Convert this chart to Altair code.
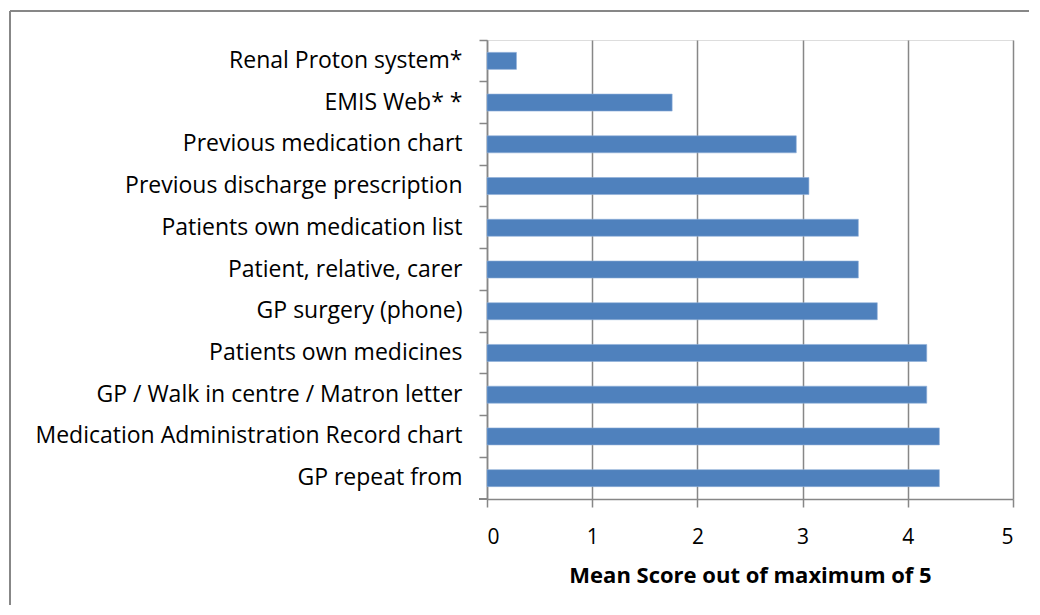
import altair as alt
import pandas as pd

sources = [
    "Renal Proton system*",
    "EMIS Web* *",
    "Previous medication chart",
    "Previous discharge prescription",
    "Patients own medication list",
    "Patient, relative, carer",
    "GP surgery (phone)",
    "Patients own medicines",
    "GP / Walk in centre / Matron letter\u00a0",
    "Medication Administration Record chart",
    "GP repeat from\u00a0",
]
scores = [0.28, 1.76, 2.94, 3.06, 3.53, 3.53, 3.71, 4.18, 4.18, 4.30, 4.30]
x_ticks = [0, 1, 2, 3, 4, 5]

df = pd.DataFrame({"source": sources, "score": scores})

FONT = "Open Sans"
GRAY = "#878787"

bars = alt.Chart(df).mark_bar(size=17, color="#4F81BD", stroke="#8FAFD8", strokeWidth=0.6).encode(
    x=alt.X(
        "score:Q",
        scale=alt.Scale(domain=[0, 5], nice=False, zero=True),
        axis=alt.Axis(
            values=x_ticks,
            format="d",
            title="Mean Score out of maximum of 5",
            grid=True,
            gridColor=GRAY,
            gridWidth=1.5,
            domainColor=GRAY,
            domainWidth=1.5,
            tickColor=GRAY,
            tickWidth=1.5,
            tickSize=8,
            labelFont=FONT,
            labelFontSize=21,
            labelColor="#000000",
            labelPadding=19,
            titleFont=FONT,
            titleFontSize=22,
            titleFontWeight="bold",
            titleColor="#000000",
            titlePadding=18,
        ),
    ),
    y=alt.Y(
        "source:N",
        sort=sources,
        scale=alt.Scale(paddingInner=0, paddingOuter=0),
        axis=alt.Axis(
            title=None,
            grid=False,
            bandPosition=0,
            domainColor=GRAY,
            domainWidth=1.5,
            tickColor=GRAY,
            tickWidth=1.5,
            tickSize=8,
            labelFont=FONT,
            labelFontSize=23,
            labelColor="#000000",
            labelPadding=17,
            labelLimit=600,
        ),
    ),
)

# bottom-most category boundary tick (Excel draws one at the axis corner)
corner_tick = alt.Chart(df).mark_rule(color=GRAY, strokeWidth=1.5).encode(
    x=alt.value(-8), x2=alt.value(0), y=alt.value(459)
)

# outer chart-area frame: only its top and left edges fall inside the picture
frame_top = alt.Chart(df).mark_rule(color=GRAY, strokeWidth=1.5).encode(
    x=alt.value(-477), x2=alt.value(542), y=alt.value(-29)
)
frame_left = alt.Chart(df).mark_rule(color=GRAY, strokeWidth=1.5).encode(
    x=alt.value(-477), y=alt.value(-29), y2=alt.value(565)
)

chart = alt.layer(frame_top, frame_left, bars, corner_tick).properties(
    width=526,
    height=459,
    autosize=alt.AutoSizeParams(type="none"),
    padding={"left": 479, "top": 32, "right": 19, "bottom": 108},
).configure_view(strokeWidth=0).configure(background="white")

chart.save("out.html", embed_options={"renderer": "svg", "actions": False})
